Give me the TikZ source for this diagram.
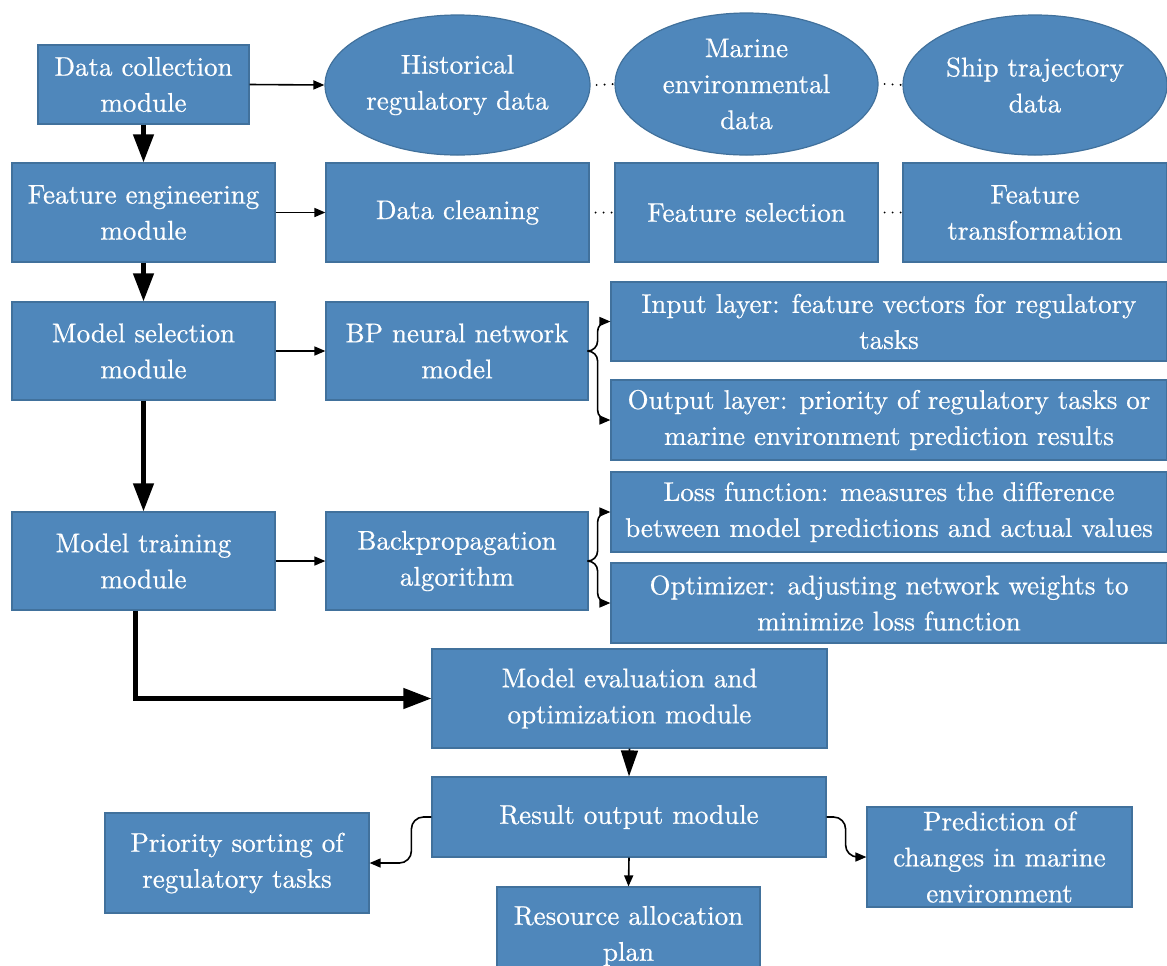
\documentclass[tikz,border=0pt]{standalone}
\usepackage{fontspec}
\newfontfamily\lmx{lmroman10-regular.otf}[FakeBold=0.6]
\usetikzlibrary{arrows.meta,shapes.geometric}
\definecolor{boxfill}{RGB}{79,135,187}
\definecolor{boxline}{RGB}{65,113,156}
\begin{document}
\begin{tikzpicture}[x=0.5pt,y=-0.5pt,
  sz/.style 2 args={minimum width=#1*0.5pt, minimum height=#2*0.5pt},
  box/.style={rectangle, draw=boxline, line width=0.6pt, fill=boxfill, text=white,
    font=\lmx\fontsize{13.5}{18}\selectfont, align=center, inner sep=0pt},
  ell/.style={box, ellipse},
  thinarr/.style={line width=0.8pt, -{Triangle[length=5.5pt,width=4.5pt]}},
  thickarr/.style={line width=2.2pt, -{Triangle[length=14pt,width=10pt]}},
  midarr/.style={line width=0.9pt, -{Triangle[length=13pt,width=8.5pt]}},
  dots/.style={line width=1.1pt, line cap=round, dash pattern=on 0pt off 4pt},
  brc/.style={line width=0.8pt, rounded corners=5pt, -{Triangle[length=5.5pt,width=4.5pt]}}]
\useasboundingbox (0,0) rectangle (1167,965);

% left column
\node[box, sz={211}{79}] (dc) at (143.5,84.5) {Data collection\\module};
\node[box, sz={263}{99}] (fe) at (143.5,212.5) {Feature engineering\\module};
\node[box, sz={263}{98}] (ms) at (143.5,351) {Model selection\\module};
\node[box, sz={263}{98}] (mt) at (143.5,561) {Model training\\module};

% data sources
\node[ell, sz={265}{140}] (e1) at (457.5,85) {Historical\\regulatory data};
\node[ell, sz={263}{142}] (e2) at (746.5,84) {Marine\\environmental\\data};
\node[ell, sz={264}{140}] (e3) at (1035,85) {Ship trajectory\\data};

% feature engineering steps
\node[box, sz={263}{99}] (dcl) at (457.5,212.5) {Data cleaning};
\node[box, sz={263}{99}] (fs) at (746.5,212.5) {Feature selection};
\node[box, sz={264}{99}] (ft) at (1035,212.5) {Feature\\transformation};

% model
\node[box, sz={262}{98}] (bp) at (457,351) {BP neural network\\model};
\node[box, sz={556}{79}] (il) at (889,321.5) {Input layer: feature vectors for regulatory\\tasks};
\node[box, sz={556}{80}] (ol) at (889,420) {Output layer: priority of regulatory tasks or\\marine environment prediction results};

% training
\node[box, sz={262}{98}] (ba) at (457,561) {Backpropagation\\algorithm};
\node[box, sz={556}{80}] (lf) at (889,512) {Loss function: measures the difference\\between model predictions and actual values};
\node[box, sz={556}{80}] (op) at (889,603) {Optimizer: adjusting network weights to\\minimize loss function};

% evaluation and output
\node[box, sz={395}{99}] (me) at (629.5,698.5) {Model evaluation and\\optimization module};
\node[box, sz={394}{80}] (ro) at (629,817) {Result output module};
\node[box, sz={263}{98}] (ra) at (628.5,936) {Resource allocation\\plan};
\node[box, sz={264}{100}] (ps) at (237,863) {Priority sorting of\\regulatory tasks};
\node[box, sz={265}{100}] (pc) at (999.5,857) {Prediction of\\changes in marine\\environment};

% main flow
\draw[thickarr] (dc.south) -- (fe.north);
\draw[thickarr] (fe.south) -- (ms.north);
\draw[thickarr] (ms.south) -- (mt.north);
\draw[thickarr] ([xshift=-4pt]mt.south) |- (me.west);
\draw[midarr] (me.south) -- (ro.north);
\draw[thinarr] (ro.south) -- (ra.north);

% side arrows
\draw[thinarr] (dc.east) -- (e1.west);
\draw[thinarr] (fe.east) -- (dcl.west);
\draw[thinarr] (ms.east) -- (bp.west);
\draw[thinarr] (mt.east) -- (ba.west);

% dotted links
\draw[dots] ([xshift=3pt]e1.east) -- (e2.west);
\draw[dots] ([xshift=3pt]e2.east) -- (e3.west);
\draw[dots] ([xshift=3pt]dcl.east) -- (fs.west);
\draw[dots] ([xshift=3pt]fs.east) -- (ft.west);

% braces
\draw[brc] (bp.east) -- ++(9,0) |- (il.west);
\draw[brc] (bp.east) -- ++(9,0) |- (ol.west);
\draw[brc] (ba.east) -- ++(9,0) |- (lf.west);
\draw[brc] (ba.east) -- ++(9,0) |- (op.west);

% result branches
\draw[thinarr, rounded corners=6pt] (ro.west) -- ++(-20,0) |- (ps.east);
\draw[thinarr, rounded corners=6pt] (ro.east) -- ++(19,0) |- (pc.west);
\end{tikzpicture}
\end{document}
